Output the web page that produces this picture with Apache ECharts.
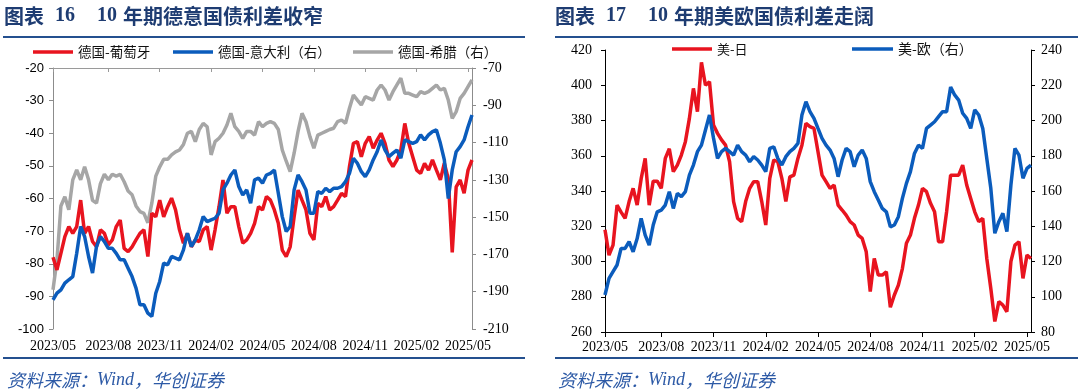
<!DOCTYPE html>
<html><head><meta charset="utf-8">
<script src="https://cdn.jsdelivr.net/npm/echarts@6/dist/echarts.min.js"></script>
<style>html,body{margin:0;padding:0;background:#fff}#c{width:1080px;height:392px}</style>
</head><body><div id="c"></div>
<script>
// weekly observation dates starting 2023-05-01
const startDate = '2023-05-01';
const nWeeks = 107;
const dates = [];
for (let i = 0; i < nWeeks; i++) {
  const d = new Date(Date.parse(startDate + 'T00:00:00Z') + i * 7 * 86400000);
  dates.push(d.toISOString().slice(0, 10));
}
const xTickLabels = ['2023/05','2023/08','2023/11','2024/02','2024/05','2024/08','2024/11','2025/02','2025/05'];
const deRightTicks = [-210,-190,-170,-150,-130,-110,-90,-70];

// 德国-葡萄牙 (left axis, bp)
const dePt = [-78,-81.9,-76.8,-71.7,-68.6,-70.7,-68.6,-60.5,-70.7,-68.6,
-73.2,-74.8,-69.6,-70.7,-74.2,-72.7,-68.6,-66.6,-75.3,-76.3,
-74.8,-72.7,-70.7,-69.6,-77.8,-64.5,-65.6,-60.5,-65.6,-62.5,
-59.9,-63.5,-69.6,-73.7,-70.7,-74.8,-72.7,-73.2,-69.6,-68.6,
-75.8,-69.6,-62.5,-54.3,-64.5,-62.5,-62.5,-68.6,-73.7,-72.7,
-70.7,-67.6,-62.5,-63.5,-59.4,-60.5,-63.5,-67.6,-75.8,-77.8,
-74.8,-65.6,-57.4,-60.5,-63.5,-70.7,-72.7,-61.5,-62.5,-59.4,
-63.5,-62.5,-60.5,-58.4,-59.4,-50.2,-43.1,-42.6,-47.2,-43.1,
-41,-44.6,-42.1,-40,-43.1,-48.2,-50.2,-48.2,-45.1,-37,
-43.1,-47.2,-51.3,-52.3,-49.2,-51.3,-48.2,-51.3,-54.3,-49.2,
-54,-76.5,-56.4,-54.3,-58.4,-51.3,-48.2];
// 德国-意大利 (right axis)
const deIt = [-194.4,-190.8,-189,-185.4,-183.6,-181.9,-169.4,-155,-160.4,-171.1,
-180,-165.8,-160.4,-163.1,-166.7,-166.7,-169.4,-172.9,-172.9,-177.4,
-181.9,-188.1,-197,-197,-201.5,-203.3,-190.8,-184.5,-174.7,-175.6,
-171.1,-172,-172.9,-167.6,-158.6,-165.8,-162.2,-156.8,-149.7,-152.4,
-151.5,-150.6,-147.9,-135.4,-131.8,-127.4,-124.7,-133.6,-138.1,-135.4,
-142.5,-130,-129.1,-131.8,-127.4,-126.5,-124.7,-137.2,-149.7,-157.7,
-155,-135.4,-127.4,-131,-135.4,-147.9,-147.9,-136.3,-137.2,-134.5,
-136.3,-134.5,-134.5,-133.6,-131,-126.5,-118.4,-121.1,-125.6,-128.3,
-124.7,-119.3,-114.9,-108.6,-114,-117.5,-115.7,-114,-118.4,-108.6,
-109.5,-110.4,-109.5,-105.9,-108.6,-105.9,-104.1,-103.2,-110.4,-119.3,
-140,-124.7,-114.9,-112.2,-108.6,-101.5,-95.2];
// 德国-希腊 (right axis)
const deGr = [-189,-173,-144,-139,-146,-130,-124.7,-130,-123,-130,
-141,-142.5,-132,-127,-130,-127,-128,-127,-131,-136,
-138,-144,-147,-148,-153,-142.5,-128,-123,-119,-119,
-116.6,-115,-114,-111,-105,-104,-109.5,-103,-99.7,-101.5,
-116.6,-109.5,-107.7,-105,-100.6,-94.3,-101.5,-104,-107.7,-104,
-104,-106,-98.8,-101.5,-99.7,-98.8,-99.7,-103,-114,-120,
-125.6,-115.7,-104,-94.3,-98.8,-106.8,-113,-106,-105,-104,
-103,-102.3,-98.8,-97.9,-99.7,-91.6,-84.5,-87.2,-89.8,-85.4,
-86.3,-87.2,-81.8,-79.1,-81.8,-87.2,-82.7,-79.1,-75.5,-83.6,
-83.6,-84.5,-85.4,-82.7,-83.6,-82.7,-80.9,-79.1,-81.8,-80.9,
-87.2,-97,-93.4,-86.3,-83.6,-80,-76.4];
// 美-日 (left axis)
const usJp = [318,303.6,309.3,332,328,324.5,334,341.5,332,347,
358.5,332,345.6,345.6,341.5,358.5,364,351,354.7,360.4,
368,381.2,398.2,385,413,400,402,377.4,372.7,369,
366,356.6,334,324.5,322.6,334,341.5,345.3,345.3,334,
320.7,347.2,357.6,356.6,347.2,334,348,349,358.5,366,
378.4,376.5,375.5,362.3,349,345.3,341.5,343.4,332,329.2,
326.3,322.6,320.7,315,313.1,305.5,283,301.7,292.3,292.3,
294.2,274,281,286.6,296,310.3,315,324.5,332,341.5,
339.6,333,328.2,311.2,311.2,328.2,349,349,349,354.7,
343.4,335.8,328.2,322.6,324.5,301.7,284.7,266,277.2,275.3,
271.5,300,309.3,311.2,290.4,303.6,301.7];
// 美-欧 (right axis)
const usEu = [101,110.4,114.2,118,127.4,127.4,131.2,125.5,133,144.5,
135,129.3,140.7,148.2,149.2,152,159.6,150.1,158.6,156.8,
159.6,169,174.7,182.3,186,194.6,203.1,190,178.5,182.3,
184.2,182.3,180.4,186,182.3,180.4,176.6,179.5,177.6,174.7,
171,184.2,185.1,178.5,174.7,179.5,182.3,184.2,187,203.1,
210.7,205,201.2,195.5,189.9,186,183.2,178.5,168.1,177.6,
184.2,182.3,173.8,180.4,183.2,178.5,165.3,159.6,154.9,150.1,
148.2,139.7,140.7,145.4,155.8,164.3,171,181.3,186,184.2,
195.5,197.4,199.3,202.2,205,205,219,214.5,211.6,204.1,
201.2,195.5,206,203.1,195.5,178.5,161.5,136,142.6,147.3,
137,163.4,184.2,180.4,167.2,172.8,174.7];

const RED = '#e8141f', BLUE = '#0b5cbc', GRAY = '#a6a6a6';
const NAVY = '#1e3c72', LINEBLUE = '#24508f', FOOT = '#2d5aa6';
const SERIF = '"Liberation Serif","DejaVu Serif",serif';
const SANS = '"Liberation Sans",Arial,sans-serif';
const CJK = '"Noto Sans CJK SC",sans-serif';
const LW = 3.5;

const monthOf = d => d.slice(0, 7).replace('-', '/');
const tickIdx = new Set();
xTickLabels.forEach(l => { const i = dates.findIndex(d => monthOf(d) === l); if (i >= 0) tickIdx.add(i); });
const showIdx = (i) => tickIdx.has(i);

const chart = echarts.init(document.getElementById('c'), null, {renderer: 'canvas'});

function txt(x, y, text, font, fill, align) {
  return {type: 'text', silent: true, style: {x, y, text, font, fill, textAlign: align || 'left', textVerticalAlign: 'middle'}};
}
function hline(x1, x2, y, color, w) {
  return {type: 'line', silent: true, shape: {x1, y1: y, x2, y2: y}, style: {stroke: color, lineWidth: w}};
}

const graphics = [];
[[0, '16', '年期德意国债利差收窄'], [551, '17', '年期美欧国债利差走阔']].forEach(([dx, num, rest]) => {
  graphics.push(txt(4 + dx, 16, '图表', 'bold 20px ' + CJK, NAVY));
  graphics.push(txt(55 + dx, 16, num, 'bold 20px ' + SERIF, NAVY));
  graphics.push(txt(97 + dx, 16, '10', 'bold 20px ' + SERIF, NAVY));
  graphics.push(txt(123 + dx, 16, rest, 'bold 20px ' + CJK, NAVY));
});
graphics.push(hline(3, 525, 37, LINEBLUE, 2));
graphics.push(hline(555, 1078, 37, LINEBLUE, 2));
graphics.push(hline(3, 525, 358, LINEBLUE, 2));
graphics.push(hline(555, 1078, 358, LINEBLUE, 2));
[7, 558].forEach((x) => {
  graphics.push({type: 'text', silent: true, style: {x, y: 380, text: '资料来源：{w|Wind}，华创证券',
    fontSize: 18, fontFamily: CJK, fontStyle: 'italic', fill: FOOT, textVerticalAlign: 'middle',
    rich: {w: {fontSize: 18, fontFamily: SERIF, fontStyle: 'italic', fill: FOOT}}}});
});
// legends
function legItem(x1, x2, y, color, label, fs) {
  graphics.push({type: 'line', silent: true, shape: {x1, y1: y, x2, y2: y}, style: {stroke: color, lineWidth: 3.5}});
  graphics.push(txt(x2 + 5, y, label, fs + 'px ' + CJK, '#111'));
}
legItem(33, 73, 52, RED, '德国-葡萄牙', 13.5);
legItem(173, 213, 52, BLUE, '德国-意大利（右）', 13.5);
legItem(353, 393, 52, GRAY, '德国-希腊（右）', 13.5);
legItem(672, 712, 49, RED, '美-日', 13);
legItem(852, 893, 49, BLUE, '美-欧（右）', 14);

const baseLine = (color) => ({show: true, lineStyle: {color, width: 1}});
const option = {
  animation: false,
  backgroundColor: '#fff',
  grid: [
    {left: 53, top: 68, width: 419, height: 261},
    {left: 605, top: 50, width: 426, height: 282}
  ],
  xAxis: [
    {type: 'category', gridIndex: 0, data: dates, boundaryGap: false, position: 'bottom',
     axisLine: {show: false}, axisTick: {show: false},
     axisLabel: {interval: showIdx, formatter: v => monthOf(v), fontFamily: SERIF, fontSize: 14, color: '#000', margin: 10, hideOverlap: false},
     splitLine: {show: false}},
    {type: 'category', gridIndex: 0, data: dates, boundaryGap: false, position: 'top',
     axisLine: baseLine('#9a9a9a'), axisTick: {show: true, inside: true, length: 4, interval: showIdx, lineStyle: {color: '#9a9a9a'}},
     axisLabel: {show: false}, splitLine: {show: false}},
    {type: 'category', gridIndex: 1, data: dates, boundaryGap: false, position: 'bottom',
     axisLine: baseLine('#000'), axisTick: {show: true, length: 5, interval: showIdx, lineStyle: {color: '#000'}},
     axisLabel: {interval: showIdx, formatter: v => monthOf(v), fontFamily: SERIF, fontSize: 14, color: '#000', margin: 8, hideOverlap: false},
     splitLine: {show: false}}
  ],
  yAxis: [
    {type: 'value', gridIndex: 0, position: 'left', min: -100, max: -20, interval: 10,
     axisLine: baseLine('#8c8c8c'), axisTick: {show: true, length: 4, lineStyle: {color: '#8c8c8c'}},
     axisLabel: {fontFamily: SANS, fontSize: 13, color: '#000', margin: 9}, splitLine: {show: false}},
    {type: 'value', gridIndex: 0, position: 'right', min: -210, max: -70, interval: 20, alignTicks: false,
     axisLine: baseLine('#8c8c8c'),
     axisTick: {show: true, length: 4, lineStyle: {color: '#8c8c8c'}, customValues: deRightTicks},
     axisLabel: {fontFamily: SERIF, fontSize: 14, color: '#000', margin: 11, customValues: deRightTicks}, splitLine: {show: false}},
    {type: 'value', gridIndex: 1, position: 'left', min: 260, max: 420, interval: 20,
     axisLine: baseLine('#000'), axisTick: {show: true, length: 4, lineStyle: {color: '#000'}},
     axisLabel: {fontFamily: SERIF, fontSize: 14, color: '#000', margin: 13}, splitLine: {show: false}},
    {type: 'value', gridIndex: 1, position: 'right', min: 80, max: 240, interval: 20,
     axisLine: baseLine('#000'), axisTick: {show: true, length: 4, lineStyle: {color: '#000'}},
     axisLabel: {fontFamily: SERIF, fontSize: 14, color: '#000', margin: 10}, splitLine: {show: false}}
  ],
  series: [
    {name: '德国-希腊（右）', type: 'line', xAxisIndex: 0, yAxisIndex: 1, data: deGr, showSymbol: false, lineStyle: {color: GRAY, width: LW}, itemStyle: {color: GRAY}},
    {name: '德国-葡萄牙', type: 'line', xAxisIndex: 0, yAxisIndex: 0, data: dePt, showSymbol: false, lineStyle: {color: RED, width: LW}, itemStyle: {color: RED}},
    {name: '德国-意大利（右）', type: 'line', xAxisIndex: 0, yAxisIndex: 1, data: deIt, showSymbol: false, lineStyle: {color: BLUE, width: LW}, itemStyle: {color: BLUE}},
    {name: '美-日', type: 'line', xAxisIndex: 2, yAxisIndex: 2, data: usJp, showSymbol: false, lineStyle: {color: RED, width: LW}, itemStyle: {color: RED}},
    {name: '美-欧（右）', type: 'line', xAxisIndex: 2, yAxisIndex: 3, data: usEu, showSymbol: false, lineStyle: {color: BLUE, width: LW}, itemStyle: {color: BLUE}}
  ],
  graphic: graphics
};
chart.setOption(option);
</script></body></html>
